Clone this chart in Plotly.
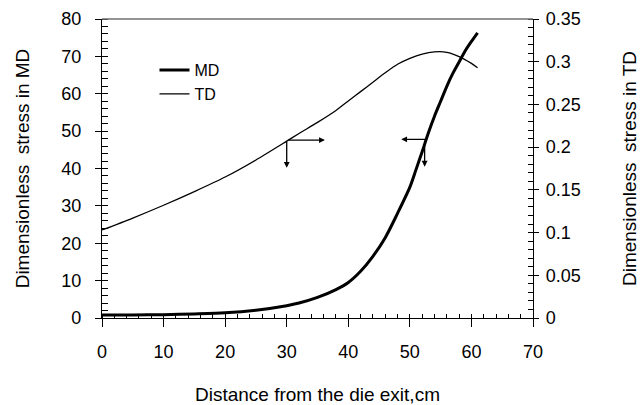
import plotly.graph_objects as go

# ---------------- data ----------------
md_x = [0, 5, 10, 15, 20, 25, 30, 32, 35, 38, 40, 42, 44, 46, 48, 50, 51, 52, 53, 54, 55, 56, 57, 58, 59, 60, 61]
md_y = [0.8, 0.8, 0.9, 1.1, 1.4, 2.1, 3.3, 4.0, 5.5, 7.6, 9.5, 12.5, 16.5, 21.5, 28, 35, 39.7, 44.5, 49.5, 54, 58, 62, 65.5, 68.5, 71.5, 74, 76.3]

td_x = [0, 5, 10, 15, 20, 25, 30, 32, 35, 38, 40, 42, 44, 46, 48, 50, 52, 54, 56, 58, 60, 61]
td_y = [0.103, 0.117, 0.132, 0.148, 0.165, 0.185, 0.207, 0.216, 0.229, 0.243, 0.254, 0.265, 0.276, 0.287, 0.297, 0.304, 0.309, 0.3115, 0.311, 0.306, 0.298, 0.293]

x_ticks = [0, 10, 20, 30, 40, 50, 60, 70]
left_ticks = [0, 10, 20, 30, 40, 50, 60, 70, 80]
right_ticks = [0, 0.05, 0.1, 0.15, 0.2, 0.25, 0.3, 0.35]
right_labels = ["0", "0.05", "0.1", "0.15", "0.2", "0.25", "0.3", "0.35"]

# arrows: (tail_x, tail_y, tip_x, tip_y) in MD-axis data units
arrow_tail_x = [30, 30, 52.8, 52.4]
arrow_tail_y = [47.6, 47.6, 47.8, 47.8]
arrow_tip_x = [30, 36.2, 48.6, 52.4]
arrow_tip_y = [40.2, 47.6, 47.8, 40.5]

FONT = "Liberation Sans, Arial, sans-serif"

fig = go.Figure()
fig.add_trace(go.Scatter(x=md_x, y=md_y, mode="lines", name="MD",
                         line=dict(color="black", width=3, shape="spline", smoothing=0.8),
                         yaxis="y"))
fig.add_trace(go.Scatter(x=td_x, y=td_y, mode="lines", name="TD",
                         line=dict(color="black", width=1.3, shape="spline", smoothing=0.8),
                         yaxis="y2"))
# helper empty traces so overlay tick axes are drawn
fig.add_trace(go.Scatter(x=[], y=[], xaxis="x2", yaxis="y", showlegend=False, hoverinfo="skip"))
fig.add_trace(go.Scatter(x=[], y=[], xaxis="x", yaxis="y3", showlegend=False, hoverinfo="skip"))
fig.add_trace(go.Scatter(x=[], y=[], xaxis="x", yaxis="y4", showlegend=False, hoverinfo="skip"))

for tx, ty, hx, hy in zip(arrow_tail_x, arrow_tail_y, arrow_tip_x, arrow_tip_y):
    fig.add_annotation(x=hx, y=hy, ax=tx, ay=ty, xref="x", yref="y", axref="x", ayref="y",
                       text="", showarrow=True, arrowhead=2, arrowsize=0.9, arrowwidth=1.3,
                       arrowcolor="black", standoff=0, startstandoff=0)

common = dict(showgrid=False, zeroline=False, linecolor="black", linewidth=1.3,
              tickcolor="black", tickwidth=1.3, automargin=False,
              tickfont=dict(family=FONT, size=18, color="black"))
overlay = dict(showline=False, showticklabels=False, showgrid=False, zeroline=False,
               tickcolor="black", tickwidth=1.3, automargin=False)

fig.update_layout(
    width=642, height=405,
    margin=dict(l=102, r=109, t=19, b=87),
    paper_bgcolor="white", plot_bgcolor="white",
    font=dict(family=FONT, color="black"),
    showlegend=True,
    legend=dict(x=0.1218, y=0.886, xanchor="left", yanchor="top",
                bgcolor="rgba(0,0,0,0)", font=dict(family=FONT, size=16, color="black"),
                tracegroupgap=0, itemwidth=30),
    xaxis=dict(range=[0, 70], tickvals=x_ticks, showline=True, ticks="outside", ticklen=8,
               ticklabelstandoff=9,
               minor=dict(dtick=2, ticks="inside", ticklen=4, tickcolor="black", tickwidth=1.2),
               title=dict(text="Distance from the die exit,cm", standoff=27,
                          font=dict(family=FONT, size=19, color="black")),
               anchor="y", **common),
    xaxis2=dict(range=[0, 70], tickvals=x_ticks, overlaying="x", anchor="y", side="bottom",
                ticks="inside", ticklen=4, **overlay),
    yaxis=dict(range=[0, 80], tickvals=left_ticks, showline=True, ticks="outside", ticklen=6,
               ticklabelstandoff=10,
               minor=dict(dtick=2, ticks="inside", ticklen=6, tickcolor="black", tickwidth=1.2),
               title=dict(text="Dimensionless  stress in MD", standoff=26,
                          font=dict(family=FONT, size=19, color="black")),
               anchor="x", **common),
    yaxis3=dict(range=[0, 80], tickvals=left_ticks, overlaying="y", anchor="x", side="left",
                ticks="inside", ticklen=6, **overlay),
    yaxis2=dict(range=[0, 0.35], tickvals=right_ticks, ticktext=right_labels,
                overlaying="y", side="right", anchor="x",
                showline=True, ticks="outside", ticklen=5, ticklabelstandoff=3,
                minor=dict(dtick=0.01, ticks="inside", ticklen=5, tickcolor="black", tickwidth=1.2),
                title=dict(text="Dimensionless  stress in TD", standoff=42,
                           font=dict(family=FONT, size=19, color="black")),
                **common),
    yaxis4=dict(range=[0, 0.35], tickvals=right_ticks, overlaying="y", anchor="x", side="right",
                ticks="inside", ticklen=5, **overlay),
)

fig.add_shape(type="line", xref="paper", yref="paper", x0=0, x1=1, y0=1, y1=1,
              line=dict(color="#707070", width=1.5))

fig.write_html("out.html", config={"displayModeBar": False},
               post_script="document.body.style.margin='0';document.body.style.padding='0';")
